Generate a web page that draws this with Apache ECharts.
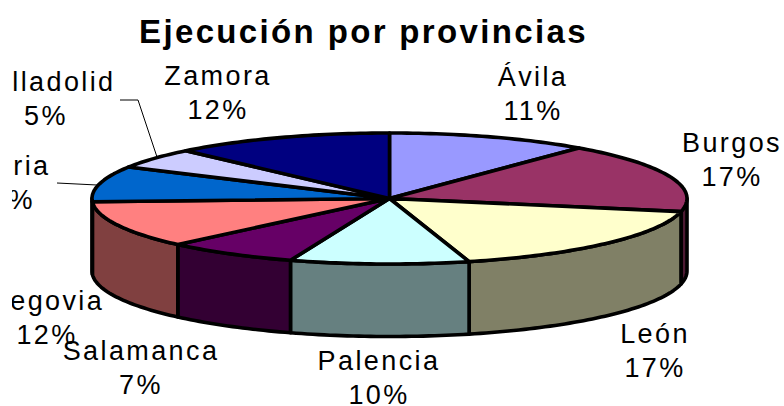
<!DOCTYPE html>
<html>
<head>
<meta charset="utf-8">
<style>
html,body{margin:0;padding:0;background:#fff;}
#chart{width:784px;height:406px;clip-path:inset(0 0 0 12px);}
#chart text{letter-spacing:2.4px;}
#chart text[style*="bold"]{letter-spacing:2.35px;}
</style>
<script src="https://cdn.jsdelivr.net/npm/echarts@6/dist/echarts.min.js"></script>
</head>
<body>
<div id="chart"></div>
<script>
const titleText = 'Ejecución por provincias';
const provinces = ['Ávila','Burgos','León','Palencia','Salamanca','Segovia','Soria','Valladolid','Zamora'];
const shares = [11,17.2,17.49,9.71,7.2,11.6,8.8,5,12];
const topColors = ['#9999FF','#993366','#FFFFCC','#CCFFFF','#660066','#FF8080','#0066CC','#CCCCFF','#000080'];
const sideColors = ['#4D4D80','#4D1A33','#808066','#668080','#330033','#804040','#003366','#666680','#000040'];

// Geometry of the tilted pie
const CX = 389.5, CY = 198.5, RX = 297.5, RY = 65.5, DEPTH = 72.5;
// Label centres (name line); the percentage sits one line below
const LABEL_POS = [[533,77],[732,143],[655,334],[379,361],[141,351],[47,301],[13,166],[46,82],[218,76]];
const LINE_GAP = 34;
// Leader lines for the two small left-hand slices
const LEADERS = {6:[[57,183],[97,185]], 7:[[120,100],[138,100],[157,157]]};

const total = shares.reduce((a,b)=>a+b,0);
const starts = [];
shares.reduce((acc,v,i)=>{starts[i]=acc;return acc+v;},0);
const ang = p => p/total*2*Math.PI;
const pt = (a,dy) => [CX+RX*Math.sin(a), CY-RY*Math.cos(a)+(dy||0)];
function arc(a0,a1,dy){
  const n=Math.max(2,Math.ceil((a1-a0)/0.02)), out=[];
  for(let k=0;k<=n;k++) out.push(pt(a0+(a1-a0)*k/n,dy));
  return out;
}
const stroke={stroke:'#000',lineWidth:3.6,lineJoin:'round'};

function renderSide(params,api){
  const i=api.value(0);
  const a0=Math.max(ang(starts[i]),Math.PI/2);
  const a1=Math.min(ang(starts[i]+api.value(1)),Math.PI*1.5);
  if(a1<=a0) return {type:'group',children:[]};
  return {type:'polygon',shape:{points:arc(a0,a1,0).concat(arc(a0,a1,DEPTH).reverse())},
    style:Object.assign({fill:sideColors[i]},stroke)};
}
function renderTop(params,api){
  const i=api.value(0);
  const a0=ang(starts[i]), a1=ang(starts[i]+api.value(1));
  return {type:'polygon',shape:{points:[[CX,CY]].concat(arc(a0,a1,0))},
    style:Object.assign({fill:topColors[i]},stroke)};
}
function renderLabel(params,api){
  const i=api.value(0), p=LABEL_POS[i];
  const t=(text,y)=>({type:'text',style:{text:text,x:p[0],y:y,textAlign:'center',textVerticalAlign:'middle',
    fill:'#000',font:'27px "Liberation Sans"'}});
  const kids=[t(provinces[i],p[1]),t(Math.round(api.value(1))+'%',p[1]+LINE_GAP)];
  if(LEADERS[i]) kids.push({type:'polyline',shape:{points:LEADERS[i]},style:{stroke:'#000',lineWidth:1,fill:null}});
  return {type:'group',children:kids};
}
const data=shares.map((v,i)=>[i,v]);
const chart=echarts.init(document.getElementById('chart'),null,{renderer:'svg'});
chart.setOption({
  animation:false,
  backgroundColor:'#fff',
  title:{text:titleText,left:358.5,top:10,textAlign:'center',
    textStyle:{fontFamily:'Liberation Sans',fontWeight:'bold',fontSize:33,color:'#000'}},
  series:[
    {type:'custom',coordinateSystem:'none',z:1,silent:true,renderItem:renderSide,data:data},
    {type:'custom',coordinateSystem:'none',z:2,silent:true,renderItem:renderTop,data:data},
    {type:'custom',coordinateSystem:'none',z:3,silent:true,renderItem:renderLabel,data:data}
  ]
});
</script>
</body>
</html>
